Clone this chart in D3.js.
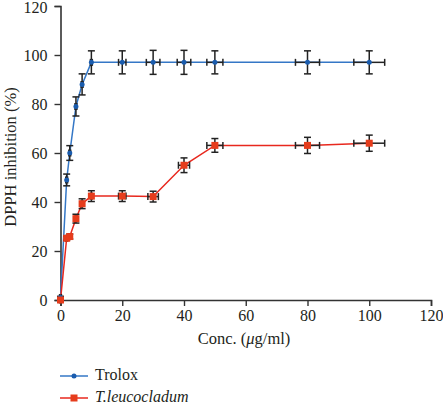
<!DOCTYPE html>
<html><head><meta charset="utf-8">
<script src="https://cdn.jsdelivr.net/npm/d3@7"></script>
<style>body{margin:0;background:#fff}svg{display:block}text{font-family:"Liberation Serif","DejaVu Serif",serif;fill:#231f20}</style>
</head><body><svg id="c" width="443" height="404"></svg>
<script>
const conc = [0, 2, 3, 5, 7, 10, 20, 30, 40, 50, 80, 100];
const troloxY = [1, 49, 60, 79, 88, 97, 97, 97, 97, 97, 97, 97];
const troloxYErr = [0.5, 2.4, 3, 3.9, 4.3, 4.7, 4.7, 4.9, 4.9, 4.7, 4.7, 4.7];
const troloxXErr = [0.3, 0.3, 0.3, 0.3, 0.3, 0.3, 1.2, 2.2, 2.2, 2.6, 3.9, 5];
const leucoY = [0, 25.2, 25.9, 33.2, 39.3, 42.4, 42.4, 42.2, 55, 63.1, 63.1, 64];
const leucoYErr = [0.5, 0.8, 1, 1.8, 2, 2.2, 2.2, 2.2, 3, 2.8, 3.3, 3.3];
const leucoXErr = [0.3, 0.3, 0.3, 0.3, 0.3, 0.3, 1.2, 1.7, 1.8, 2.6, 3.9, 5];
const xTicks = [0, 20, 40, 60, 80, 100, 120];
const yTicks = [0, 20, 40, 60, 80, 100, 120];
const seriesNames = ["Trolox", "T.leucocladum"];

const FS = 16;
const svg = d3.select("#c");
const x = d3.scaleLinear().domain([0, 120]).range([60.5, 431]);
const y = d3.scaleLinear().domain([0, 120]).range([300, 6]);
const axisColor = "#333";

const series = [
  {name: seriesNames[0], ys: troloxY, ye: troloxYErr, xe: troloxXErr, line: "#3477c6", mark: "#1a5cae", shape: "circle"},
  {name: seriesNames[1], ys: leucoY, ye: leucoYErr, xe: leucoXErr, line: "#e8281e", mark: "#e63c1c", shape: "square"}
];

// axes
const xa = svg.append("g").attr("transform", `translate(0,${y(0)})`)
  .call(d3.axisBottom(x).tickValues(xTicks).tickSize(6).tickPadding(4));
const ya = svg.append("g").attr("transform", `translate(${x(0)},0)`)
  .call(d3.axisLeft(y).tickValues(yTicks).tickSize(6).tickPadding(7));
[xa, ya].forEach(a => {
  a.select(".domain").attr("stroke", axisColor).attr("stroke-width", 1.6);
  a.selectAll(".tick line").attr("stroke", axisColor).attr("stroke-width", 1.4);
  a.selectAll(".tick text").attr("font-size", FS).attr("fill", "#231f20")
   .attr("font-family", '"Liberation Serif",serif');
});
ya.selectAll(".tick text").filter(d => d === 120).attr("y", 1.5);

svg.append("text").attr("transform", `translate(12,157) rotate(-90)`)
  .attr("text-anchor", "middle").attr("dominant-baseline", "middle").attr("font-size", 16.5)
  .text("DPPH inhibition (%)");
const xl = svg.append("text").attr("x", 244).attr("y", 343.5).attr("text-anchor", "middle").attr("font-size", 16.5);
xl.append("tspan").text("Conc. (");
xl.append("tspan").attr("font-style", "italic").text("μ");
xl.append("tspan").text("g/ml)");

const line = d3.line().x(d => x(d[0])).y(d => y(d[1]));
series.forEach(s => {
  const pts = conc.map((c, i) => [c, s.ys[i]]);
  svg.append("path").attr("d", line(pts)).attr("fill", "none").attr("stroke", s.line).attr("stroke-width", 1.5);
});

// error bars
series.forEach(s => {
  const g = svg.append("g").attr("stroke", "#222").attr("stroke-width", 1.5).attr("fill", "none");
  conc.forEach((c, i) => {
    const cx = x(c), cy = y(s.ys[i]);
    const y1 = y(s.ys[i] + s.ye[i]), y2 = y(s.ys[i] - s.ye[i]);
    const x1 = x(c - s.xe[i]), x2 = x(c + s.xe[i]);
    g.append("line").attr("x1", cx).attr("x2", cx).attr("y1", y1).attr("y2", y2);
    g.append("line").attr("x1", cx-3.5).attr("x2", cx+3.5).attr("y1", y1).attr("y2", y1);
    g.append("line").attr("x1", cx-3.5).attr("x2", cx+3.5).attr("y1", y2).attr("y2", y2);
    g.append("line").attr("x1", x1).attr("x2", x2).attr("y1", cy).attr("y2", cy);
    g.append("line").attr("x1", x1).attr("x2", x1).attr("y1", cy-3.5).attr("y2", cy+3.5);
    g.append("line").attr("x1", x2).attr("x2", x2).attr("y1", cy-3.5).attr("y2", cy+3.5);
  });
});

function marker(g, s, cx, cy) {
  if (s.shape === "circle") g.append("circle").attr("cx", cx).attr("cy", cy).attr("r", 2.5).attr("fill", s.mark);
  else g.append("rect").attr("x", cx-3.5).attr("y", cy-3.5).attr("width", 7).attr("height", 7).attr("fill", s.mark);
}
series.forEach(s => {
  const g = svg.append("g");
  conc.forEach((c, i) => marker(g, s, x(c), y(s.ys[i])));
});

// legend
const legY = [376, 398];
series.forEach((s, i) => {
  const g = svg.append("g");
  g.append("line").attr("x1", 60).attr("x2", 88).attr("y1", legY[i]).attr("y2", legY[i]).attr("stroke", s.line).attr("stroke-width", 1.5);
  marker(g, s, 74, legY[i]);
  g.append("text").attr("x", 95).attr("y", legY[i]).attr("dominant-baseline", "middle").attr("font-size", FS)
    .attr("font-style", i === 1 ? "italic" : "normal").text(s.name);
});
</script></body></html>
